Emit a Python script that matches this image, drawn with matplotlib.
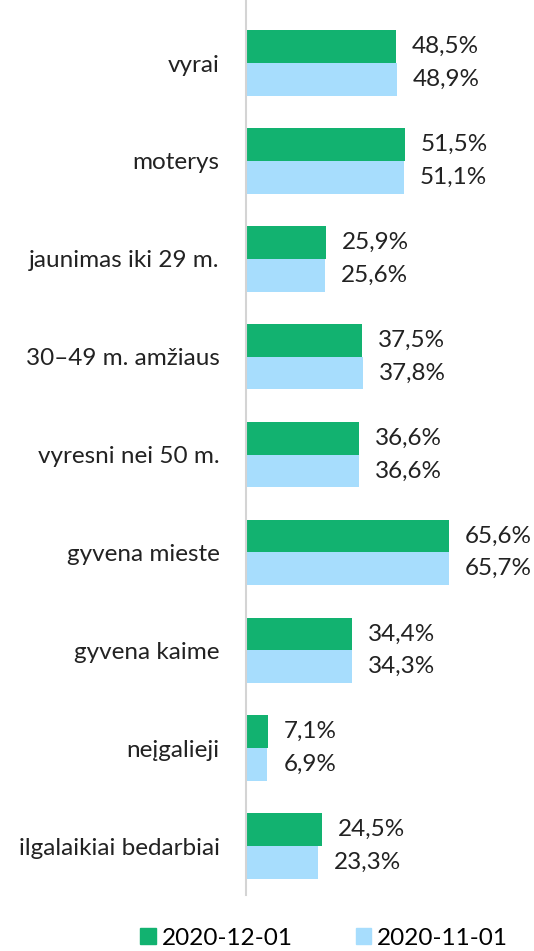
import matplotlib
matplotlib.use('Agg')
import matplotlib.pyplot as plt
from matplotlib.patches import Patch
import numpy as np

plt.rcParams['font.family'] = ['Lato', 'DejaVu Sans']

categories = ['vyrai', 'moterys', 'jaunimas iki 29 m.', '30–49 m. amžiaus',
              'vyresni nei 50 m.', 'gyvena mieste', 'gyvena kaime',
              'neįgalieji', 'ilgalaikiai bedarbiai']
dec_2020 = [48.5, 51.5, 25.9, 37.5, 36.6, 65.6, 34.4, 7.1, 24.5]
nov_2020 = [48.9, 51.1, 25.6, 37.8, 36.6, 65.7, 34.3, 6.9, 23.3]
series_names = ['2020-12-01', '2020-11-01']

green = '#12b270'
blue = '#a7ddfd'
fs = 17.5

fig = plt.figure(figsize=(5.34, 9.51), dpi=100)
ax = fig.add_axes([246 / 534, 56 / 951, 1 - 246 / 534, 895 / 951])

y = np.arange(len(categories))
h = 0.335
ax.barh(y - h / 2, dec_2020, height=h, color=green)
ax.barh(y + h / 2, nov_2020, height=h, color=blue)

def fmt(v):
    return f'{v:.1f}'.replace('.', ',') + '%'

for i in range(len(categories)):
    ax.annotate(fmt(dec_2020[i]), (dec_2020[i], y[i] - h / 2), xytext=(16, 0),
                textcoords='offset pixels', va='center', ha='left', fontsize=fs, color='#222222')
    ax.annotate(fmt(nov_2020[i]), (nov_2020[i], y[i] + h / 2), xytext=(16, 0),
                textcoords='offset pixels', va='center', ha='left', fontsize=fs, color='#222222')

ax.set_xlim(0, 93.2)
ax.set_ylim(8.5, -0.644)
ax.set_yticks(y)
ax.set_yticklabels(categories, fontsize=fs, color='#222222')
ax.tick_params(axis='y', length=0, pad=19)
ax.set_xticks([])
for s in ['top', 'right', 'bottom']:
    ax.spines[s].set_visible(False)
ax.spines['left'].set_color('#d4d4d4')
ax.spines['left'].set_linewidth(1.5)

handles = [Patch(color=green), Patch(color=blue)]
fig.legend(handles, series_names, loc='lower left', bbox_to_anchor=(138 / 534, 0.0),
           ncol=2, frameon=False, fontsize=fs, handlelength=0.62, handleheight=0.62,
           handletextpad=0.25, columnspacing=2.6, borderaxespad=0, borderpad=0.1)

fig.savefig('out.png', dpi=100)
